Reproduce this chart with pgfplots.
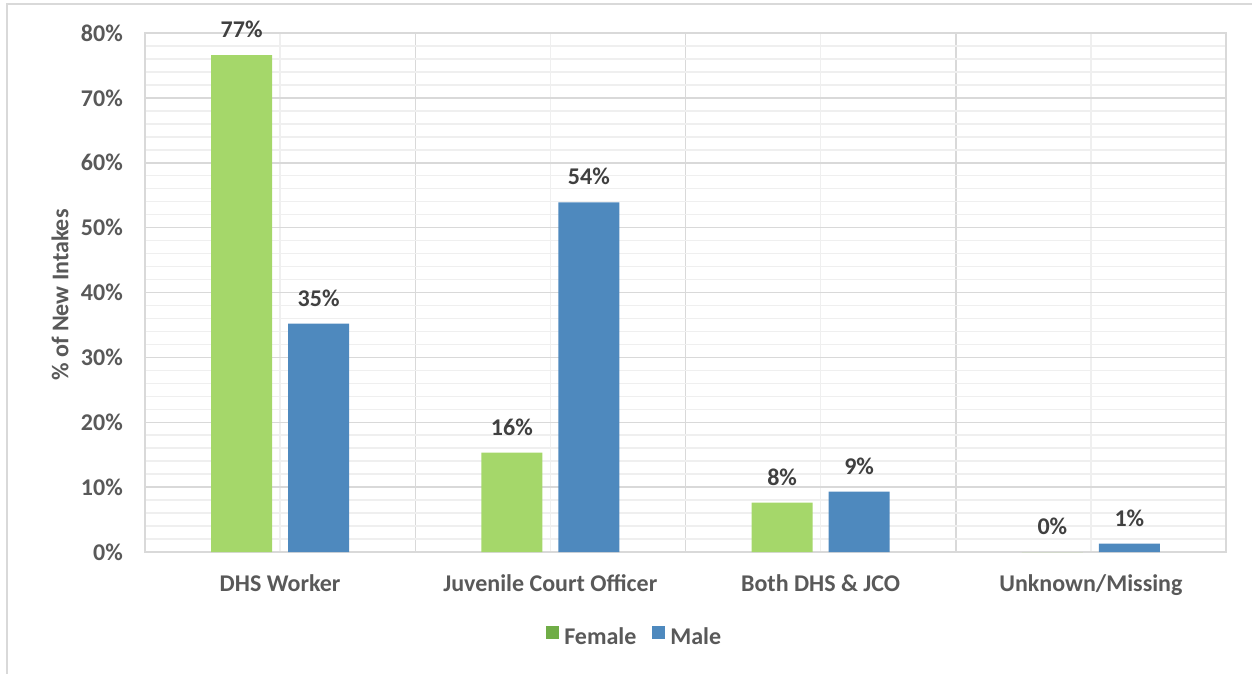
\documentclass[border=0pt]{standalone}
\usepackage{fontspec}
\setmainfont{Carlito}
\usepackage{pgfplots}
\pgfplotsset{compat=1.18}
\usetikzlibrary{calc}
\definecolor{fem}{HTML}{A5D76A}
\definecolor{femleg}{HTML}{70AD47}
\definecolor{mal}{HTML}{4E89BE}
\definecolor{txt}{HTML}{595959}
\definecolor{lbl}{HTML}{404040}
\definecolor{gmaj}{HTML}{D9D9D9}
\definecolor{gmin}{HTML}{EFEFEF}
\newcommand\ff{\fontsize{24}{28}\selectfont\bfseries}
\begin{document}
\begin{tikzpicture}
\begin{axis}[name=ax, scale only axis,
  width=1081pt, height=519pt,
  xmin=-0.5, xmax=3.5, ymin=0, ymax=80,
  ybar,
  /pgf/number format/assume math mode=true,
  axis line style={gmaj, line width=1.5pt},
  xtick={-0.5,0.5,1.5,2.5,3.5}, xticklabels={},
  minor xtick={0,1,2,3},
  extra x ticks={0,1,2,3},
  extra x tick labels={DHS Worker, Juvenile Court Officer, Both DHS \& JCO, Unknown/Missing},
  extra x tick style={grid=none},
  ytick={0,10,...,80},
  yticklabel={\pgfmathprintnumber{\tick}\%},
  minor y tick num=4,
  grid=both,
  major grid style={gmaj, line width=1.5pt},
  minor grid style={gmin, line width=1.5pt},
  major tick length=0pt, minor tick length=0pt,
  tick style={draw=none},
  ticklabel style={font=\ff, text=txt},
  yticklabel style={anchor=east, inner sep=0pt, xshift=-22pt},
  xticklabel style={anchor=north, inner sep=0pt, yshift=-22pt},
  ylabel={\% of New Intakes},
  ylabel style={font=\ff, text=txt, at={(axis description cs:-0.0786,0.495)}, anchor=center},
  point meta=explicit symbolic,
  nodes near coords={\pgfplotspointmeta},
  every node near coord/.append style={font=\ff, text=lbl, inner sep=0pt, anchor=south, yshift=17pt},
  legend style={at={(axis description cs:0.453,-0.164)}, anchor=center, draw=none, fill=none,
    font=\ff, text=txt, legend columns=2,
    /tikz/every odd column/.append style={column sep=3pt},
    /tikz/every even column/.append style={column sep=14pt}},
  legend image code/.code={\fill[#1] (0pt,-2pt) rectangle (13pt,11pt);},
]
\addplot[fill=fem, draw=none, bar width=61pt, bar shift=-38.5pt, forget plot]
  coordinates {(0,76.6) [77\%] (1,15.3) [16\%] (2,7.6) [8\%] (3,0) [0\%]};
\addplot[fill=mal, draw=none, bar width=61pt, bar shift=38.5pt, forget plot]
  coordinates {(0,35.2) [35\%] (1,53.9) [54\%] (2,9.3) [9\%] (3,1.3) [1\%]};
\addlegendimage{fill=femleg, draw=none}
\addlegendentry{Female}
\addlegendimage{fill=mal, draw=none}
\addlegendentry{Male}
\end{axis}
\pgfresetboundingbox
\path[use as bounding box] ($(ax.south west)+(-145pt,-121pt)$) rectangle ($(ax.south west)+(1107pt,552pt)$);
\draw[gmaj, line width=1.5pt] ($(ax.south west)+(-138pt,-125pt)$) -- ($(ax.south west)+(-138pt,548pt)$) -- ($(ax.south west)+(1110pt,548pt)$);
\end{tikzpicture}
\end{document}
